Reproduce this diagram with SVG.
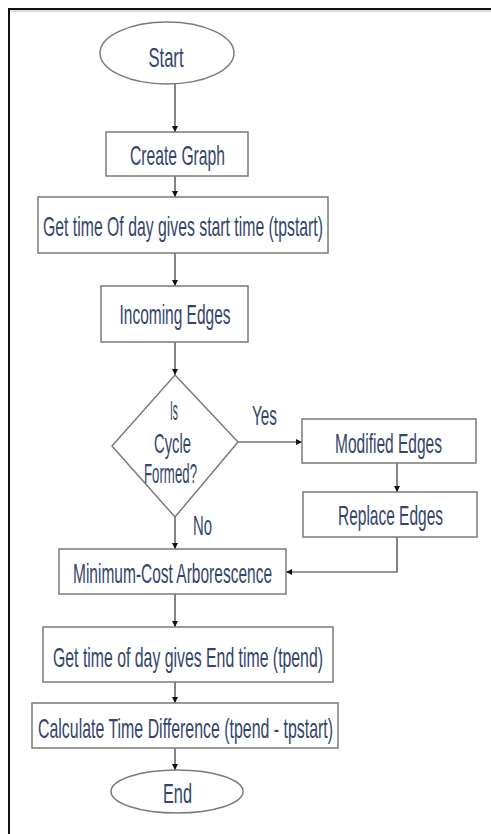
<svg xmlns="http://www.w3.org/2000/svg" width="491" height="834" viewBox="0 0 491 834">
<style>
.box{fill:#fff;stroke:#7a7a7a;stroke-width:1.5}
.t{font-family:"Liberation Sans",Arial,sans-serif;font-size:17px;fill:#34456b;text-anchor:middle}
.c{fill:none;stroke:#333;stroke-width:1.2}
</style>
<defs>
<marker id="ah" markerWidth="7" markerHeight="7" refX="6" refY="3.5" orient="auto" markerUnits="userSpaceOnUse">
<path d="M0,0.5 L6,3.5 L0,6.5 Z" fill="#111"/>
</marker>
</defs>
<rect width="491" height="834" fill="#fff"/>
<path d="M9,834 V9 H491" fill="none" stroke="#111" stroke-width="2"/>
<path d="M10.5,11 H491" fill="none" stroke="#bbb" stroke-width="1"/>
<g id="connectors">
<path class="c" d="M175,84 V132" marker-end="url(#ah)"/>
<path class="c" d="M175,176 V197" marker-end="url(#ah)"/>
<path class="c" d="M175,253 V286" marker-end="url(#ah)"/>
<path class="c" d="M175,342 V375" marker-end="url(#ah)"/>
<path class="c" d="M238,442 H302" marker-end="url(#ah)"/>
<path class="c" d="M397,463 V492" marker-end="url(#ah)"/>
<path class="c" d="M397,537 V572 H286" marker-end="url(#ah)"/>
<path class="c" d="M175,517 V549" marker-end="url(#ah)"/>
<path class="c" d="M175,594 V627" marker-end="url(#ah)"/>
<path class="c" d="M175,682 V703" marker-end="url(#ah)"/>
<path class="c" d="M175,748 V770" marker-end="url(#ah)"/>
<text class="t" transform="translate(264.5,425) scale(1,1.6)" textLength="25" lengthAdjust="spacingAndGlyphs">Yes</text>
<text class="t" transform="translate(202.5,535) scale(1,1.6)" textLength="19" lengthAdjust="spacingAndGlyphs">No</text>
</g>
<g id="start">
<ellipse class="box" cx="167" cy="53" rx="67" ry="31"/>
<text class="t" transform="translate(166,67) scale(1,1.6)" textLength="35" lengthAdjust="spacingAndGlyphs">Start</text>
</g>
<g id="create-graph">
<rect class="box" x="106" y="132" width="142" height="44"/>
<text class="t" transform="translate(177.5,165) scale(1,1.6)" textLength="95" lengthAdjust="spacingAndGlyphs">Create Graph</text>
</g>
<g id="get-start-time">
<rect class="box" x="38" y="197" width="290" height="56"/>
<text class="t" transform="translate(183,236) scale(1,1.6)" textLength="280" lengthAdjust="spacingAndGlyphs">Get time Of day gives start time (tpstart)</text>
</g>
<g id="incoming-edges">
<rect class="box" x="101" y="286" width="147" height="56"/>
<text class="t" transform="translate(175,324) scale(1,1.6)" textLength="111" lengthAdjust="spacingAndGlyphs">Incoming Edges</text>
</g>
<g id="cycle-decision">
<path class="box" d="M175,375 L238,442 L175,517 L112,446 Z"/>
<text class="t" transform="translate(174,420) scale(1,1.6)" textLength="8" lengthAdjust="spacingAndGlyphs">Is</text>
<text class="t" transform="translate(172.5,453) scale(1,1.6)" textLength="37" lengthAdjust="spacingAndGlyphs">Cycle</text>
<text class="t" transform="translate(170.5,483) scale(1,1.6)" textLength="53" lengthAdjust="spacingAndGlyphs">Formed?</text>
</g>
<g id="modified-edges">
<rect class="box" x="302" y="419" width="174" height="44"/>
<text class="t" transform="translate(388.5,453) scale(1,1.6)" textLength="107" lengthAdjust="spacingAndGlyphs">Modified Edges</text>
</g>
<g id="replace-edges">
<rect class="box" x="303" y="492" width="174" height="45"/>
<text class="t" transform="translate(390.5,525) scale(1,1.6)" textLength="105" lengthAdjust="spacingAndGlyphs">Replace Edges</text>
</g>
<g id="min-cost">
<rect class="box" x="59" y="549" width="227" height="45"/>
<text class="t" transform="translate(172.5,583) scale(1,1.6)" textLength="199" lengthAdjust="spacingAndGlyphs">Minimum-Cost Arborescence</text>
</g>
<g id="get-end-time">
<rect class="box" x="43" y="627" width="290" height="55"/>
<text class="t" transform="translate(188,667) scale(1,1.6)" textLength="270" lengthAdjust="spacingAndGlyphs">Get time of day gives End time (tpend)</text>
</g>
<g id="calc-diff">
<rect class="box" x="32" y="703" width="306" height="45"/>
<text class="t" transform="translate(185.5,738) scale(1,1.6)" textLength="295" lengthAdjust="spacingAndGlyphs">Calculate Time Difference (tpend - tpstart)</text>
</g>
<g id="end">
<ellipse class="box" cx="177" cy="791.5" rx="66" ry="21.5"/>
<text class="t" transform="translate(177.5,803) scale(1,1.6)" textLength="29" lengthAdjust="spacingAndGlyphs">End</text>
</g>
</svg>
